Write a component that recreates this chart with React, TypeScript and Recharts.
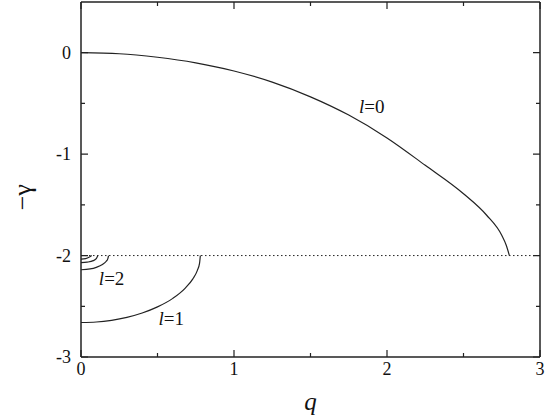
import { LineChart, Line, XAxis, YAxis, ReferenceLine, ReferenceDot } from 'recharts';

// curve l=0 : q vs -gamma
const l0Q = [0, 0.25, 0.5, 0.75, 1.0, 1.25, 1.5, 1.75, 2.0, 2.25, 2.5, 2.65, 2.75, 2.78, 2.8];
const l0G = [0, -0.01, -0.045, -0.1, -0.18, -0.29, -0.435, -0.615, -0.84, -1.11, -1.39, -1.6, -1.8, -1.9, -2.0];

// curve l=1
const l1Q = [0, 0.1, 0.2, 0.3, 0.4, 0.5, 0.6, 0.68, 0.73, 0.76, 0.775, 0.78];
const l1G = [-2.66, -2.655, -2.638, -2.609, -2.566, -2.506, -2.422, -2.323, -2.232, -2.148, -2.075, -2.0];

// curve l=2
const l2Q = [0, 0.06, 0.1, 0.14, 0.165, 0.175, 0.18];
const l2G = [-2.14, -2.132, -2.116, -2.088, -2.056, -2.033, -2.0];

// higher l, tiny arcs near q=0
const l3Q = [0, 0.04, 0.08, 0.1, 0.11];
const l3G = [-2.07, -2.065, -2.05, -2.03, -2.0];
const l4Q = [0, 0.03, 0.055, 0.07];
const l4G = [-2.035, -2.03, -2.015, -2.0];

const threshold = -2;

const xDomain = [0, 3];
const yDomain = [-3, 0.5];
const xTicks = [0, 0.5, 1, 1.5, 2, 2.5, 3];
const yTicks = [-3, -2.5, -2, -1.5, -1, -0.5, 0];

const curveLabels = [
  { l: '0', q: 1.9, g: -0.53 },
  { l: '2', q: 0.2, g: -2.22 },
  { l: '1', q: 0.59, g: -2.62 },
];

const INK = '#222';
const FONT = 'Liberation Serif';

// layout
const W = 545;
const H = 418;
const M = { top: 2, right: 5, bottom: 0, left: 0 };
const Y_AXIS_W = 81;
const X_AXIS_H = 61;
const PLOT_TOP = M.top;
const PLOT_RIGHT = W - M.right;

const toRows = (qs: number[], gs: number[]) => qs.map((q, i) => ({ q, g: gs[i] }));

const isMajor = (v: number) => Number.isInteger(v);

// ticks point inward and are mirrored on the opposite side of the frame
function BottomTick(props: any) {
  const { x, y, payload } = props;
  const v = payload.value;
  const len = isMajor(v) ? 7 : 4;
  return (
    <g>
      <path d={`M${x},${y}v${-len}M${x},${PLOT_TOP}v${len}`} stroke={INK} strokeWidth={1.2} fill="none" />
      {isMajor(v) && (
        <text x={x} y={y + 18} textAnchor="middle" fontSize={18} fill="#111" fontFamily={FONT}>
          {v}
        </text>
      )}
    </g>
  );
}

function LeftTick(props: any) {
  const { x, y, payload } = props;
  const v = payload.value;
  const len = isMajor(v) ? 7 : 4;
  return (
    <g>
      <path d={`M${x},${y}h${len}M${PLOT_RIGHT},${y}h${-len}`} stroke={INK} strokeWidth={1.2} fill="none" />
      {isMajor(v) && (
        <text x={x - 10} y={y + 6} textAnchor="end" fontSize={18} fill="#111" fontFamily={FONT}>
          {String(v)}
        </text>
      )}
    </g>
  );
}

function XTitle(props: any) {
  const vb = props.viewBox;
  const cx = vb.x + vb.width / 2;
  const cy = vb.y + vb.height - 8;
  return (
    <text x={cx} y={cy} textAnchor="middle" fontSize={25} fontStyle="italic" fill="#111" fontFamily={FONT}>
      q
    </text>
  );
}

function YTitle(props: any) {
  const vb = props.viewBox;
  const cx = vb.x + 22;
  const cy = vb.y + vb.height * 0.55;
  return (
    <text x={cx} y={cy} transform={`rotate(-90, ${cx}, ${cy})`} textAnchor="middle" dominantBaseline="central" fontSize={26} fill="#111" fontFamily={FONT}>
      −γ
    </text>
  );
}

function CurveLabel(props: any, l: string) {
  const { cx, cy } = props;
  return (
    <text x={cx} y={cy} textAnchor="middle" dominantBaseline="central" fontSize={19} fill="#111" fontFamily={FONT}>
      <tspan fontStyle="italic">l</tspan>
      <tspan>={l}</tspan>
    </text>
  );
}

const series = [
  { key: 'l0', data: toRows(l0Q, l0G) },
  { key: 'l1', data: toRows(l1Q, l1G) },
  { key: 'l2', data: toRows(l2Q, l2G) },
  { key: 'l3', data: toRows(l3Q, l3G) },
  { key: 'l4', data: toRows(l4Q, l4G) },
];

export default function App() {
  return (
    <div style={{ position: 'absolute', left: 0, top: 0, background: '#fff' }}>
      <LineChart width={W} height={H} margin={M} style={{ fontFamily: FONT }}>
        <XAxis
          dataKey="q"
          type="number"
          domain={xDomain}
          ticks={xTicks}
          interval={0}
          height={X_AXIS_H}
          tickSize={0}
          tickMargin={0}
          tick={BottomTick}
          axisLine={{ stroke: INK, strokeWidth: 1.5 }}
          label={{ content: XTitle }}
        />
        <YAxis
          type="number"
          domain={yDomain}
          ticks={yTicks}
          interval={0}
          width={Y_AXIS_W}
          tickSize={0}
          tickMargin={0}
          tick={LeftTick}
          axisLine={{ stroke: INK, strokeWidth: 1.5 }}
          label={{ content: YTitle }}
        />
        {/* frame: top and right edges */}
        <ReferenceLine y={yDomain[1]} stroke={INK} strokeWidth={1.5} ifOverflow="visible" />
        <ReferenceLine x={xDomain[1]} stroke={INK} strokeWidth={1.5} ifOverflow="visible" />
        <ReferenceLine y={threshold} stroke={INK} strokeWidth={1} strokeDasharray="1.5 2.5" />
        {series.map((s) => (
          <Line
            key={s.key}
            data={s.data}
            dataKey="g"
            type="monotone"
            stroke={INK}
            strokeWidth={1.2}
            dot={false}
            activeDot={false}
            isAnimationActive={false}
          />
        ))}
        {curveLabels.map((c) => (
          <ReferenceDot key={c.l} x={c.q} y={c.g} r={0} shape={(p: any) => CurveLabel(p, c.l)} />
        ))}
      </LineChart>
    </div>
  );
}
